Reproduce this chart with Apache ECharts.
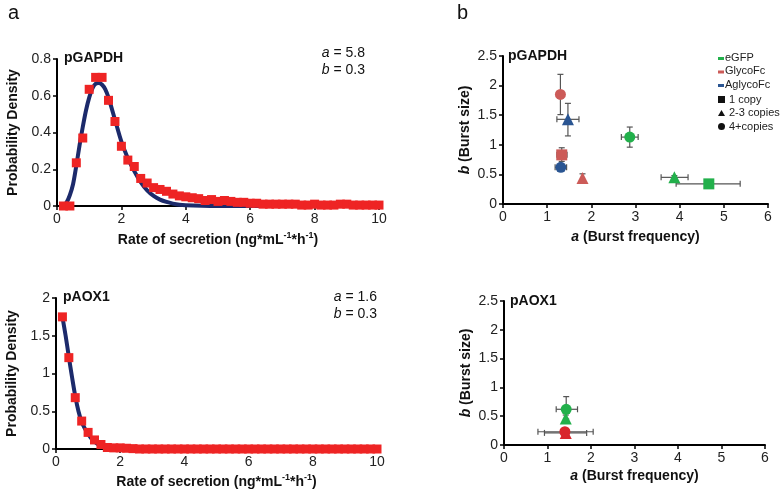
<!DOCTYPE html>
<html>
<head>
    <meta charset="utf-8">
    <title>Burst kinetics</title>
    <style>
        html,body{width:100%;height:100%;margin:0;padding:0;overflow:hidden;background:#fff;}
        #main{width:780px;height:493px;}
    </style>
    <script src="https://cdn.jsdelivr.net/npm/echarts@6/dist/echarts.min.js"></script>
</head>
<body>
<div id="main"></div>
<script type="text/javascript">
    // ---- panel a : rate of secretion distributions ----
    var rateX = [0.2,0.4,0.6,0.8,1.0,1.2,1.4,1.6,1.8,2.0,2.2,2.4,2.6,2.8,3.0,3.2,3.4,3.6,3.8,4.0,
                 4.2,4.4,4.6,4.8,5.0,5.2,5.4,5.6,5.8,6.0,6.2,6.4,6.6,6.8,7.0,7.2,7.4,7.6,7.8,8.0,
                 8.2,8.4,8.6,8.8,9.0,9.2,9.4,9.6,9.8,10.0];
    var gapdhPts = [0,0,0.235,0.37,0.635,0.70,0.70,0.575,0.46,0.325,0.25,0.215,0.15,0.125,0.10,0.09,0.08,0.065,0.055,0.05,
                    0.045,0.04,0.03,0.035,0.025,0.03,0.025,0.02,0.02,0.015,0.015,0.01,0.01,0.01,0.01,0.01,0.01,0.005,0.005,0.01,
                    0.005,0.005,0.005,0.01,0.01,0.005,0.005,0.005,0.005,0.005];
    var aoxPts = [1.75,1.21,0.68,0.37,0.22,0.12,0.06,0.02,0.015,0.015,0.01,0.005,0,0,0,0,0,0,0,0,
                  0,0,0,0,0,0,0,0,0,0,0,0,0,0,0,0,0,0,0,0,
                  0,0,0,0,0,0,0,0,0,0];

    var gapdhFitX = [0.2,0.3,0.4,0.5,0.6,0.7,0.8,0.9,1.0,1.1,1.2,1.3,1.4,1.5,1.6,1.8,2.0,2.2,2.4,2.6,2.8,3.0,3.2,3.4,3.6,3.8,4.0,4.5,5,6,8,10];
    var gapdhFitY = [0.0,0.02,0.06,0.12,0.22,0.33,0.43,0.52,0.59,0.64,0.665,0.67,0.66,0.635,0.59,0.47,0.35,0.26,0.19,0.13,0.085,0.055,0.035,0.022,0.013,0.007,0.004,0.001,0,0,0,0];
    var aoxFitX = [0.2,0.3,0.4,0.5,0.6,0.7,0.8,0.9,1.0,1.1,1.2,1.3,1.4,1.5,1.6,1.8,2.0,2.5,3,4,6,8,10];
    var aoxFitY = [1.75,1.5,1.22,0.95,0.70,0.50,0.36,0.27,0.20,0.14,0.10,0.065,0.04,0.02,0.01,0.003,0,0,0,0,0,0,0];

    // ---- panel b : burst frequency (a) vs burst size (b) ----
    // [a, b, aLow, aHigh, bLow, bHigh, construct, copies]
    var gapdhBurst = [
        [1.30, 1.85, 1.30, 1.30, 1.51, 2.19, 'GlycoFc', '4+'],
        [1.47, 1.43, 1.22, 1.72, 1.15, 1.70, 'AglycoFc', '2-3'],
        [1.33, 0.83, 1.22, 1.45, 0.72, 0.95, 'GlycoFc', '1'],
        [1.31, 0.62, 1.18, 1.44, 0.56, 0.68, 'AglycoFc', '4+'],
        [1.80, 0.44, 1.80, 1.80, 0.39, 0.51, 'GlycoFc', '2-3'],
        [2.87, 1.13, 2.68, 3.06, 0.96, 1.30, 'eGFP', '4+'],
        [3.88, 0.45, 3.58, 4.19, 0.42, 0.48, 'eGFP', '2-3'],
        [4.66, 0.34, 3.92, 5.37, 0.27, 0.40, 'eGFP', '1']
    ];
    var aoxBurst = [
        [1.43, 0.62, 1.20, 1.69, 0.45, 0.84, 'eGFP', '4+'],
        [1.42, 0.46, 1.42, 1.42, 0.38, 0.52, 'eGFP', '2-3'],
        [1.42, 0.21, 0.93, 1.90, 0.21, 0.21, 'GlycoFc', '2-3'],
        [1.40, 0.23, 0.78, 2.05, 0.23, 0.23, 'GlycoFc', '4+']
    ];
    var constructs = ['eGFP', 'GlycoFc', 'AglycoFc'];
    var copyLabels = ['1 copy', '2-3 copies', '4+copies'];

    var colorsTop = {eGFP: '#22b04b', GlycoFc: '#cc5b58', AglycoFc: '#2a5592'};
    var colorsBottom = {eGFP: '#22b04b', GlycoFc: '#d8262c', AglycoFc: '#2a5592'};
    var shapes = {'1': 'rect', '2-3': 'triangle', '4+': 'circle'};

    var font = 'Liberation Sans, Arial, sans-serif';
    var myChart = echarts.init(document.getElementById('main'));

    function pairs(xs, ys) {
        return xs.map(function (x, i) { return [x, ys[i]]; });
    }

    function axisBase(extra) {
        var ax = {
            type: 'value',
            axisLine: {show: true, onZero: false, lineStyle: {color: '#000', width: 2}},
            axisTick: {show: true, length: 4, lineStyle: {color: '#000', width: 1.5}},
            axisLabel: {color: '#222', fontSize: 14, fontFamily: font, margin: 6,
                formatter: function (v) { return String(+v.toFixed(2)); }},
            splitLine: {show: false},
            nameLocation: 'middle',
            nameTextStyle: {color: '#111', fontSize: 14, fontWeight: 'bold', fontFamily: font}
        };
        for (var k in extra) ax[k] = extra[k];
        return ax;
    }

    var rateName = '{t|Rate of secretion (ng*mL}{s|-1}{t|*h}{s|-1}{t|)}';
    var rateRich = {
        t: {fontSize: 14, fontWeight: 'bold', fontFamily: font, color: '#111'},
        s: {fontSize: 9, fontWeight: 'bold', fontFamily: font, color: '#111', verticalAlign: 'top', padding: [0, 0, 10, 0]}
    };
    var burstRich = {
        i: {fontSize: 14, fontWeight: 'bold', fontStyle: 'italic', fontFamily: font, color: '#111'},
        t: {fontSize: 14, fontWeight: 'bold', fontFamily: font, color: '#111'}
    };

    function errorSeries(rows, xi, yi) {
        return {
            type: 'custom', xAxisIndex: xi, yAxisIndex: yi, z: 2, silent: true,
            data: rows.map(function (r) { return r.slice(0, 6); }),
            renderItem: function (params, api) {
                var c = api.coord([api.value(0), api.value(1)]);
                var xl = api.coord([api.value(2), api.value(1)]);
                var xh = api.coord([api.value(3), api.value(1)]);
                var yl = api.coord([api.value(0), api.value(4)]);
                var yh = api.coord([api.value(0), api.value(5)]);
                var st = {stroke: '#555', lineWidth: 1.2};
                var cap = 3;
                var kids = [];
                if (Math.abs(xh[0] - xl[0]) > 1) {
                    kids.push({type: 'line', shape: {x1: xl[0], y1: c[1], x2: xh[0], y2: c[1]}, style: st});
                    kids.push({type: 'line', shape: {x1: xl[0], y1: c[1] - cap, x2: xl[0], y2: c[1] + cap}, style: st});
                    kids.push({type: 'line', shape: {x1: xh[0], y1: c[1] - cap, x2: xh[0], y2: c[1] + cap}, style: st});
                }
                if (Math.abs(yh[1] - yl[1]) > 1) {
                    kids.push({type: 'line', shape: {x1: c[0], y1: yl[1], x2: c[0], y2: yh[1]}, style: st});
                    kids.push({type: 'line', shape: {x1: c[0] - cap, y1: yl[1], x2: c[0] + cap, y2: yl[1]}, style: st});
                    kids.push({type: 'line', shape: {x1: c[0] - cap, y1: yh[1], x2: c[0] + cap, y2: yh[1]}, style: st});
                }
                return {type: 'group', children: kids};
            }
        };
    }

    function pointSeries(rows, xi, yi, colors) {
        return rows.map(function (r) {
            return {
                type: 'scatter', xAxisIndex: xi, yAxisIndex: yi, z: 3,
                symbol: shapes[r[7]], symbolSize: r[7] === '2-3' ? 12 : 11,
                itemStyle: {color: colors[r[6]], opacity: 1},
                data: [[r[0], r[1]]]
            };
        });
    }

    var series = [
        {type: 'line', xAxisIndex: 0, yAxisIndex: 0, smooth: 0.3, showSymbol: false, z: 2,
            lineStyle: {color: '#1c2a6b', width: 4}, data: pairs(gapdhFitX, gapdhFitY)},
        {type: 'scatter', xAxisIndex: 0, yAxisIndex: 0, symbol: 'rect', symbolSize: 9, z: 3,
            itemStyle: {color: '#ee2424', opacity: 1}, data: pairs(rateX, gapdhPts)},
        {type: 'line', xAxisIndex: 1, yAxisIndex: 1, smooth: 0.3, showSymbol: false, z: 2,
            lineStyle: {color: '#1c2a6b', width: 4}, data: pairs(aoxFitX, aoxFitY)},
        {type: 'scatter', xAxisIndex: 1, yAxisIndex: 1, symbol: 'rect', symbolSize: 9, z: 3,
            itemStyle: {color: '#ee2424', opacity: 1}, data: pairs(rateX, aoxPts)},
        errorSeries(gapdhBurst, 2, 2),
        errorSeries(aoxBurst, 3, 3)
    ].concat(pointSeries(gapdhBurst, 2, 2, colorsTop), pointSeries(aoxBurst, 3, 3, colorsBottom));

    // legend of panel b (top)
    var legendItems = [];
    constructs.forEach(function (c, i) {
        legendItems.push({type: 'rect', left: 718, top: 57 + i * 13.5, shape: {width: 6, height: 3}, style: {fill: colorsTop[c]}});
        legendItems.push({type: 'text', left: 725, top: 52 + i * 13.5, style: {text: c, fontSize: 11, fontFamily: font, fill: '#222'}});
    });
    var legendShapes = [
        {type: 'rect', left: 718, top: 96, shape: {width: 7, height: 7}, style: {fill: '#111'}},
        {type: 'polygon', left: 718, top: 110, shape: {points: [[3.5, 0], [7, 6], [0, 6]]}, style: {fill: '#111'}},
        {type: 'circle', left: 718, top: 123, shape: {r: 3.5}, style: {fill: '#111'}}
    ];
    copyLabels.forEach(function (t, i) {
        legendItems.push(legendShapes[i]);
        legendItems.push({type: 'text', left: 729, top: 94 + i * 13.5, style: {text: t, fontSize: 11, fontFamily: font, fill: '#222'}});
    });

    function label(txt, x, y, size, weight) {
        return {type: 'text', left: x, top: y, style: {text: txt, fontSize: size, fontWeight: weight || 'normal', fontFamily: font, fill: '#111'}};
    }
    function param(letter, val, x, y) {
        return {type: 'text', right: x, top: y, style: {
            text: '{i|' + letter + '}{t| = ' + val + '}',
            rich: {i: {fontSize: 14, fontStyle: 'italic', fontFamily: font, fill: '#111'}, t: {fontSize: 14, fontFamily: font, fill: '#111'}}
        }};
    }

    var option = {
        animation: false,
        backgroundColor: '#fff',
        grid: [
            {left: 57, top: 59, width: 322, height: 147},
            {left: 56, top: 298, width: 321, height: 151},
            {left: 503, top: 56, width: 265, height: 148},
            {left: 504, top: 301, width: 261, height: 144}
        ],
        xAxis: [
            axisBase({gridIndex: 0, min: 0, max: 10, interval: 2, name: rateName, nameGap: 25, nameTextStyle: {rich: rateRich}}),
            axisBase({gridIndex: 1, min: 0, max: 10, interval: 2, name: rateName, nameGap: 24, nameTextStyle: {rich: rateRich}}),
            axisBase({gridIndex: 2, min: 0, max: 6, interval: 1, name: '{i|a}{t| (Burst frequency)}', nameGap: 26, nameTextStyle: {rich: burstRich}}),
            axisBase({gridIndex: 3, min: 0, max: 6, interval: 1, name: '{i|a}{t| (Burst frequency)}', nameGap: 24, nameTextStyle: {rich: burstRich}})
        ],
        yAxis: [
            axisBase({gridIndex: 0, min: 0, max: 0.8, interval: 0.2, name: 'Probability Density', nameGap: 37}),
            axisBase({gridIndex: 1, min: 0, max: 2, interval: 0.5, name: 'Probability Density', nameGap: 37}),
            axisBase({gridIndex: 2, min: 0, max: 2.5, interval: 0.5, name: '{i|b}{t| (Burst size)}', nameGap: 31, nameTextStyle: {rich: burstRich}}),
            axisBase({gridIndex: 3, min: 0, max: 2.5, interval: 0.5, name: '{i|b}{t| (Burst size)}', nameGap: 31, nameTextStyle: {rich: burstRich}})
        ],
        graphic: [
            label('a', 8, 3, 20),
            label('b', 457, 3, 20),
            label('pGAPDH', 64, 51, 14, 'bold'),
            label('pAOX1', 63, 290, 14, 'bold'),
            label('pGAPDH', 508, 49, 14, 'bold'),
            label('pAOX1', 510, 294, 14, 'bold'),
            param('a', '5.8', 415, 46),
            param('b', '0.3', 415, 63),
            param('a', '1.6', 403, 290),
            param('b', '0.3', 403, 307)
        ].concat(legendItems),
        series: series
    };
    myChart.setOption(option);
</script>
</body>
</html>
